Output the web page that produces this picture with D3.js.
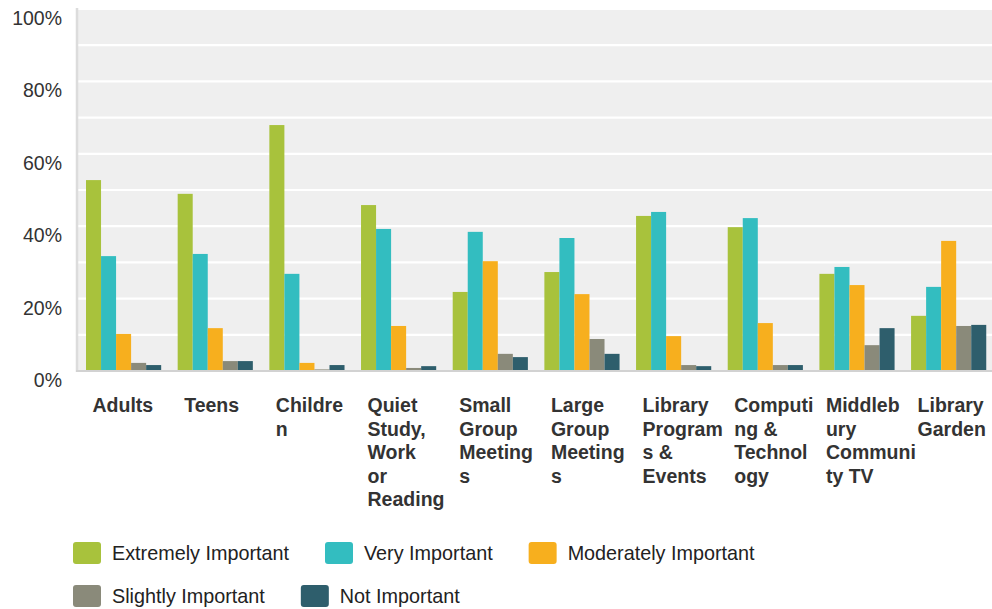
<!DOCTYPE html>
<html>
<head>
<meta charset="utf-8">
<script src="https://cdn.jsdelivr.net/npm/d3@7"></script>
<style>
  html, body { margin: 0; padding: 0; background: #ffffff; }
  svg { display: block; font-family: "Liberation Sans", Arial, Helvetica, sans-serif; }
</style>
</head>
<body>
<svg id="chart" width="992" height="609"></svg>
<script>
// ---- data ----
const categories = ["Adults", "Teens", "Children", "Quiet Study, Work or Reading", "Small Group Meetings",
  "Large Group Meetings", "Library Programs & Events", "Computing & Technology",
  "Middlebury Community TV", "Library Garden"];
const categoryLines = [["Adults"], ["Teens"], ["Childre", "n"], ["Quiet", "Study,", "Work", "or", "Reading"],
  ["Small", "Group", "Meeting", "s"], ["Large", "Group", "Meeting", "s"], ["Library", "Program", "s &", "Events"],
  ["Computi", "ng &", "Technol", "ogy"], ["Middleb", "ury", "Communi", "ty TV"], ["Library", "Garden"]];
const seriesNames = ["Extremely Important", "Very Important", "Moderately Important", "Slightly Important", "Not Important"];
const seriesColors = ["#a8c23c", "#33bdc0", "#f7af1e", "#8a8a7a", "#2e5e6c"];
const extremely  = [52.6, 48.8, 67.8, 45.7, 21.7, 27.2, 42.7, 39.6, 26.7, 15.1];
const very       = [31.6, 32.2, 26.7, 39.1, 38.3, 36.6, 43.8, 42.1, 28.6, 23.1];
const moderately = [10.1, 11.7, 2.1, 12.3, 30.2, 21.1, 9.5, 13.1, 23.6, 35.8];
const slightly   = [2.1, 2.6, 0.3, 0.7, 4.6, 8.7, 1.5, 1.5, 7.0, 12.3];
const notImp     = [1.5, 2.6, 1.5, 1.2, 3.7, 4.6, 1.2, 1.5, 11.7, 12.6];
const yTickValues = [0, 20, 40, 60, 80, 100];
const yGridValues = [0, 10, 20, 30, 40, 50, 60, 70, 80, 90, 100];

const seriesValues = [extremely, very, moderately, slightly, notImp];

// ---- layout ----
const svg = d3.select("#chart");
const plot = { left: 78, right: 992, top: 8.5, bottom: 370.5 };

const x0 = d3.scaleBand().domain(categories).range([77.75, 994.5]).paddingInner(0.18).paddingOuter(0.09);
const x1 = d3.scaleBand().domain(seriesNames).range([0, x0.bandwidth()]).padding(0);
const y = d3.scaleLinear().domain([0, 100]).range([plot.bottom, plot.top]);

// background
svg.append("rect")
  .attr("x", plot.left).attr("y", 8)
  .attr("width", plot.right - plot.left).attr("height", plot.bottom - 8)
  .attr("fill", "#efefef");

// gridlines
const grid = svg.append("g").attr("transform", `translate(${plot.left},0)`)
  .call(d3.axisLeft(y).tickValues(yGridValues).tickSize(-(plot.right - plot.left)).tickFormat(""));
grid.select(".domain").remove();
grid.selectAll(".tick line").attr("stroke", "#ffffff").attr("stroke-width", 2.2);

// bars
const groups = svg.append("g").selectAll("g")
  .data(categories)
  .join("g")
  .attr("transform", d => `translate(${x0(d)},0)`);
groups.selectAll("rect")
  .data((c, i) => seriesNames.map((s, j) => ({ s, v: seriesValues[j][i], color: seriesColors[j] })))
  .join("rect")
  .attr("x", d => x1(d.s))
  .attr("y", d => y(d.v))
  .attr("width", x1.bandwidth())
  .attr("height", d => y(0) - y(d.v))
  .attr("fill", d => d.color);

// axis lines
svg.append("line").attr("x1", 77).attr("x2", 77).attr("y1", 8).attr("y2", 372)
  .attr("stroke", "#dcdcdc").attr("stroke-width", 2.5);
svg.append("line").attr("x1", 76).attr("x2", plot.right).attr("y1", 371).attr("y2", 371)
  .attr("stroke", "#d2d2d2").attr("stroke-width", 2);

// y axis labels
const yAxis = svg.append("g").attr("transform", "translate(62,0)")
  .call(d3.axisLeft(y).tickValues(yTickValues).tickSize(0).tickPadding(0).tickFormat(d => d + "%"));
yAxis.select(".domain").remove();
yAxis.selectAll(".tick text")
  .attr("x", 0).attr("dy", 16)
  .attr("text-anchor", "end")
  .attr("font-size", "19.5px")
  .attr("font-family", "'Liberation Sans', Arial, sans-serif")
  .attr("fill", "#333333");

// x axis labels
const xAxis = svg.append("g").attr("transform", `translate(0,${plot.bottom})`)
  .call(d3.axisBottom(x0).tickSize(0).tickFormat(""));
xAxis.select(".domain").remove();
xAxis.selectAll(".tick").each(function (d, i) {
  const t = d3.select(this).select("text");
  t.attr("text-anchor", "start")
    .attr("x", -x0.bandwidth() / 2 + 6.5)
    .attr("y", 0).attr("dy", null)
    .attr("font-size", "19.5px")
    .attr("font-weight", "bold")
    .attr("font-family", "'Liberation Sans', Arial, sans-serif")
    .attr("fill", "#333333");
  t.selectAll("tspan")
    .data(categoryLines[i])
    .join("tspan")
    .attr("x", -x0.bandwidth() / 2 + 6.5)
    .attr("y", (l, k) => 41.8 + k * 23.4)
    .text(l => l);
});

// legend
const legend = svg.append("g");
let lx = 73, ly = 553;
seriesNames.forEach((name, j) => {
  const g = legend.append("g");
  const txt = g.append("text")
    .attr("font-size", "19.8px")
    .attr("font-family", "'Liberation Sans', Arial, sans-serif")
    .attr("fill", "#222222")
    .text(name);
  const w = txt.node().getComputedTextLength();
  const itemW = 39 + w;
  if (lx + itemW > 960) { lx = 73; ly += 43; }
  g.append("rect")
    .attr("x", lx).attr("y", ly - 11)
    .attr("width", 28).attr("height", 22)
    .attr("rx", 3).attr("ry", 3)
    .attr("fill", seriesColors[j]);
  txt.attr("x", lx + 39).attr("y", ly + 7);
  lx += itemW + 36;
});
</script>
</body>
</html>
